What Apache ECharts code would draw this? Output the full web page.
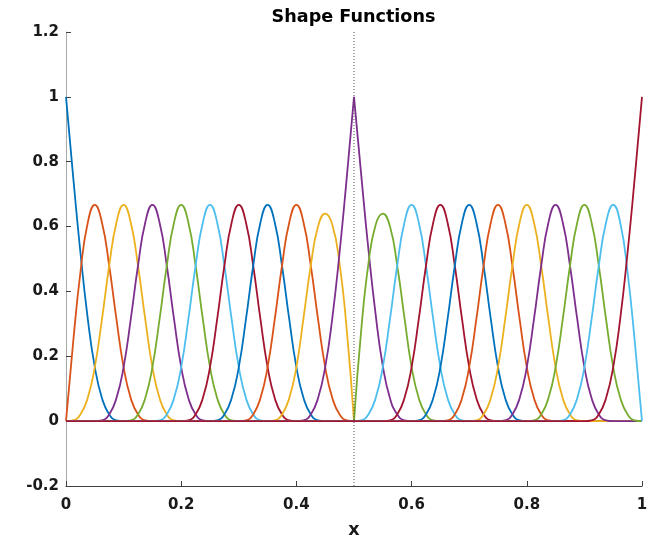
<!DOCTYPE html>
<html>
<head>
<meta charset="utf-8">
<script src="https://cdn.jsdelivr.net/npm/echarts@6/dist/echarts.min.js"></script>
<style>
html,body{margin:0;padding:0;background:#fff;}
#chart{width:648px;height:540px;}
</style>
</head>
<body>
<div id="chart"></div>
<script>
// ---------- data ----------
// common sampling grid of x (knot spacing 0.05, sampled every 0.0125)
const xGrid = [0,0.0125,0.025,0.0375,0.05,0.0625,0.075,0.0875,0.1,0.1125,0.125,0.1375,0.15,0.1625,0.175,0.1875,
  0.2,0.2125,0.225,0.2375,0.25,0.2625,0.275,0.2875,0.3,0.3125,0.325,0.3375,0.35,0.3625,0.375,0.3875,
  0.4,0.4125,0.425,0.4375,0.45,0.4625,0.475,0.4875,0.5,0.5125,0.525,0.5375,0.55,0.5625,0.575,0.5875,
  0.6,0.6125,0.625,0.6375,0.65,0.6625,0.675,0.6875,0.7,0.7125,0.725,0.7375,0.75,0.7625,0.775,0.7875,
  0.8,0.8125,0.825,0.8375,0.85,0.8625,0.875,0.8875,0.9,0.9125,0.925,0.9375,0.95,0.9625,0.975,0.9875,1];

// x where each shape function's non-zero part starts
const startX = [0, 0, 0, 0.05, 0.1, 0.15, 0.2, 0.25, 0.3, 0.35, 0.4,
                0.5, 0.5, 0.55, 0.6, 0.65, 0.7, 0.75, 0.8, 0.85, 0.9];

// values of each shape function on the grid, from its start x
const n00 = [1, 0.7526, 0.5208, 0.3203, 0.1667, 0.0703, 0.0208, 0.0026, 0];
const n01 = [0, 0.2448, 0.4584, 0.6094, 0.6667, 0.6120, 0.4792, 0.3151, 0.1667, 0.0703, 0.0208, 0.0026, 0];
const n02 = [0, 0.0026, 0.0208, 0.0703, 0.1667, 0.3151, 0.4792, 0.6120, 0.6667, 0.6120, 0.4792, 0.3151, 0.1667, 0.0703, 0.0208, 0.0026, 0];
const n03 = [0, 0.0026, 0.0208, 0.0703, 0.1667, 0.3151, 0.4792, 0.6120, 0.6667, 0.6120, 0.4792, 0.3151, 0.1667, 0.0703, 0.0208, 0.0026, 0];
const n04 = [0, 0.0026, 0.0208, 0.0703, 0.1667, 0.3151, 0.4792, 0.6120, 0.6667, 0.6120, 0.4792, 0.3151, 0.1667, 0.0703, 0.0208, 0.0026, 0];
const n05 = [0, 0.0026, 0.0208, 0.0703, 0.1667, 0.3151, 0.4792, 0.6120, 0.6667, 0.6120, 0.4792, 0.3151, 0.1667, 0.0703, 0.0208, 0.0026, 0];
const n06 = [0, 0.0026, 0.0208, 0.0703, 0.1667, 0.3151, 0.4792, 0.6120, 0.6667, 0.6120, 0.4792, 0.3151, 0.1667, 0.0703, 0.0208, 0.0026, 0];
const n07 = [0, 0.0026, 0.0208, 0.0703, 0.1667, 0.3151, 0.4792, 0.6120, 0.6667, 0.6120, 0.4792, 0.3151, 0.1667, 0.0703, 0.0208, 0.0026, 0];
const n08 = [0, 0.0026, 0.0208, 0.0703, 0.1667, 0.3151, 0.4792, 0.6120, 0.6667, 0.6120, 0.4792, 0.3151, 0.1667, 0.0703, 0.0208, 0.0026, 0];
const n09 = [0, 0.0026, 0.0208, 0.0703, 0.1667, 0.3200, 0.4800, 0.6000, 0.6400, 0.6050, 0.4850, 0.2800, 0];
const n10 = [0, 0.0026, 0.0208, 0.0703, 0.1667, 0.3203, 0.5208, 0.7526, 1, 0.7600, 0.5300, 0.3300, 0.1700, 0.0703, 0.0208, 0.0026, 0];
const n11 = [0, 0.2800, 0.4850, 0.6050, 0.6400, 0.6000, 0.4800, 0.3200, 0.1667, 0.0703, 0.0208, 0.0026, 0];
const n12 = [0, 0.0026, 0.0208, 0.0703, 0.1667, 0.3151, 0.4792, 0.6120, 0.6667, 0.6120, 0.4792, 0.3151, 0.1667, 0.0703, 0.0208, 0.0026, 0];
const n13 = [0, 0.0026, 0.0208, 0.0703, 0.1667, 0.3151, 0.4792, 0.6120, 0.6667, 0.6120, 0.4792, 0.3151, 0.1667, 0.0703, 0.0208, 0.0026, 0];
const n14 = [0, 0.0026, 0.0208, 0.0703, 0.1667, 0.3151, 0.4792, 0.6120, 0.6667, 0.6120, 0.4792, 0.3151, 0.1667, 0.0703, 0.0208, 0.0026, 0];
const n15 = [0, 0.0026, 0.0208, 0.0703, 0.1667, 0.3151, 0.4792, 0.6120, 0.6667, 0.6120, 0.4792, 0.3151, 0.1667, 0.0703, 0.0208, 0.0026, 0];
const n16 = [0, 0.0026, 0.0208, 0.0703, 0.1667, 0.3151, 0.4792, 0.6120, 0.6667, 0.6120, 0.4792, 0.3151, 0.1667, 0.0703, 0.0208, 0.0026, 0];
const n17 = [0, 0.0026, 0.0208, 0.0703, 0.1667, 0.3151, 0.4792, 0.6120, 0.6667, 0.6120, 0.4792, 0.3151, 0.1667, 0.0703, 0.0208, 0.0026, 0];
const n18 = [0, 0.0026, 0.0208, 0.0703, 0.1667, 0.3151, 0.4792, 0.6120, 0.6667, 0.6120, 0.4792, 0.3151, 0.1667, 0.0703, 0.0208, 0.0026, 0];
const n19 = [0, 0.0026, 0.0208, 0.0703, 0.1667, 0.3151, 0.4792, 0.6120, 0.6667, 0.6094, 0.4584, 0.2448, 0];
const n20 = [0, 0.0026, 0.0208, 0.0703, 0.1667, 0.3203, 0.5208, 0.7526, 1];

const shapeValues = [n00,n01,n02,n03,n04,n05,n06,n07,n08,n09,n10,n11,n12,n13,n14,n15,n16,n17,n18,n19,n20];

// C0 knot (dotted vertical line, and where curves have a kink)
const c0Knots = [0.5];

// axis ranges / ticks
const xRange = [0, 1];
const xStep = 0.2;
const yRange = [-0.2, 1.2];
const yStep = 0.2;

// MATLAB default line colours
const palette = ['#0072BD', '#D95319', '#EDB120', '#7E2F8E', '#77AC30', '#4DBEEE', '#A2142F'];

// ---------- build series ----------
const FONT = 'DejaVu Sans';
const series = [];
shapeValues.forEach(function (vals, i) {
  const i0 = xGrid.findIndex(function (v) { return Math.abs(v - startX[i]) < 1e-9; });
  let pts = vals.map(function (y, k) { return [xGrid[i0 + k], y]; });
  if (pts[0][0] > xRange[0]) pts.unshift([xRange[0], 0]);
  if (pts[pts.length - 1][0] < xRange[1]) pts.push([xRange[1], 0]);
  // split into pieces at C0 knots so the kinks stay sharp
  const pieces = [];
  let cur = [];
  pts.forEach(function (p, k) {
    cur.push(p);
    const isKnot = c0Knots.some(function (kx) { return Math.abs(p[0] - kx) < 1e-9; });
    if (isKnot && k > 0 && k < pts.length - 1) {
      pieces.push(cur);
      cur = [p];
    }
  });
  pieces.push(cur);
  pieces.forEach(function (piece) {
    series.push({
      type: 'line',
      data: piece,
      smooth: true,
      symbol: 'none',
      silent: true,
      lineStyle: { color: palette[i % palette.length], width: 1.8 },
      itemStyle: { color: palette[i % palette.length] }
    });
  });
});

c0Knots.forEach(function (kx) {
  series.push({
    type: 'line',
    data: [[kx, yRange[0]], [kx, yRange[1]]],
    symbol: 'none',
    silent: true,
    lineStyle: { color: '#555555', width: 1, type: [1, 2] }
  });
});

const chart = echarts.init(document.getElementById('chart'), null, { renderer: 'canvas' });
chart.setOption({
  animation: false,
  backgroundColor: '#ffffff',
  title: {
    text: 'Shape Functions',
    left: 353.5,
    top: 8,
    padding: 0,
    textAlign: 'center',
    textStyle: { fontFamily: FONT, fontWeight: 'bold', fontSize: 17.6, color: '#000000' }
  },
  grid: { left: 66, right: 6, top: 32, bottom: 54, containLabel: false, outerBoundsMode: 'none' },
  xAxis: {
    type: 'value',
    min: xRange[0], max: xRange[1], interval: xStep,
    name: 'x', nameLocation: 'middle', nameGap: 35,
    nameTextStyle: { fontFamily: FONT, fontSize: 17.6, fontWeight: 'bold', color: '#1a1a1a' },
    axisLine: { show: true, onZero: false, lineStyle: { color: '#404040', width: 1 } },
    axisTick: { show: true, inside: true, length: 5, lineStyle: { color: '#404040', width: 1 } },
    axisLabel: { margin: 12, fontFamily: FONT, fontSize: 15, fontWeight: 'bold', color: '#1a1a1a' },
    splitLine: { show: false }
  },
  yAxis: {
    type: 'value',
    min: yRange[0], max: yRange[1], interval: yStep,
    axisLine: { show: true, onZero: false, lineStyle: { color: '#a8a8a8', width: 1 } },
    axisTick: { show: true, inside: true, length: 5, lineStyle: { color: '#404040', width: 1 } },
    axisLabel: { margin: 7, fontFamily: FONT, fontSize: 15, fontWeight: 'bold', color: '#1a1a1a' },
    splitLine: { show: false }
  },
  series: series
});
</script>
</body>
</html>
